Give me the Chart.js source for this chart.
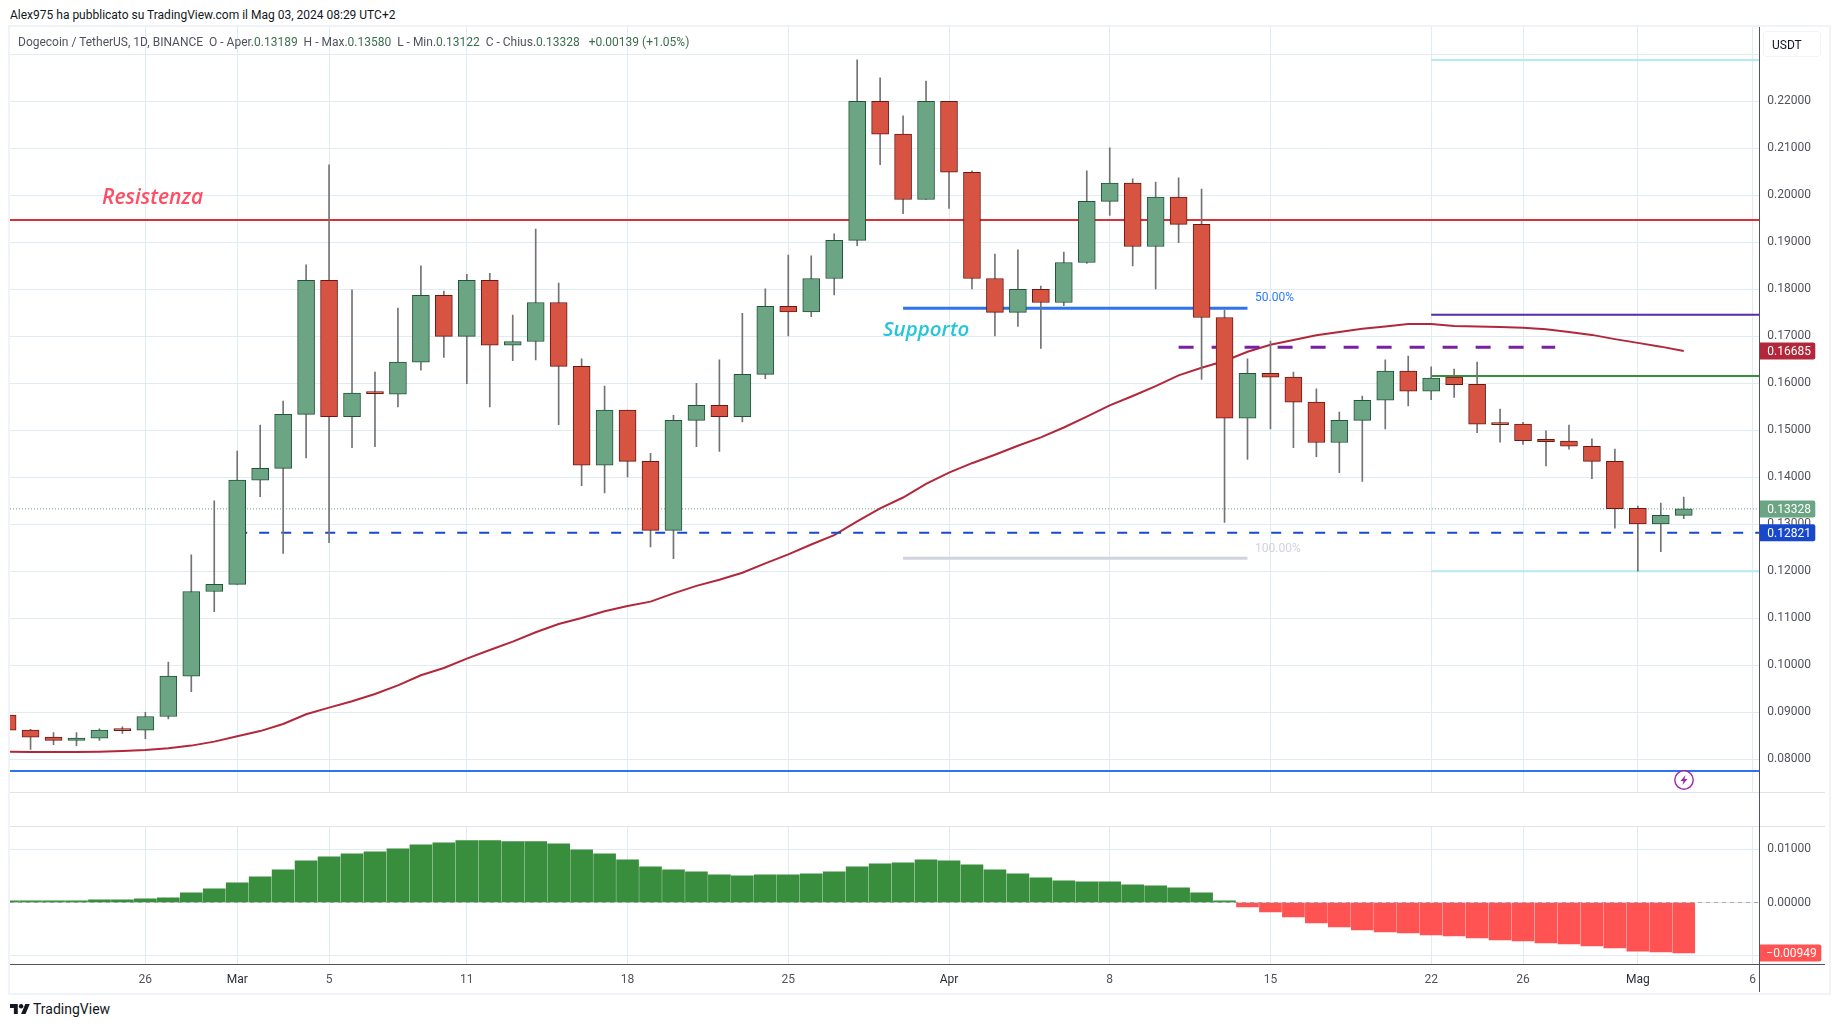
<!DOCTYPE html>
<html>
<head>
<meta charset="utf-8">
<title>Dogecoin / TetherUS</title>
<script src="https://cdn.jsdelivr.net/npm/chart.js@4/dist/chart.umd.min.js"></script>
<style>
  html, body { margin: 0; background: #fff; }
  body { width: 1835px; height: 1027px; position: relative; overflow: hidden; font-family: Roboto, sans-serif; }
  canvas { position: absolute; left: 10px; }
  .su { position: absolute; white-space: pre; pointer-events: none; }
  .riga { position: absolute; }
</style>
</head>
<body>
<canvas id="prezzo" width="1815" height="765" style="top:27px"></canvas>
<canvas id="oscillatore" width="1815" height="166" style="top:826px"></canvas>

<div class="riga" style="left:8px;top:25px;width:1819px;height:966px;border:2px solid #f0f3fa;box-sizing:content-box"></div>
<div class="riga" style="left:10px;top:792px;width:1815px;height:1px;background:#e0e3eb"></div>
<div class="riga" style="left:10px;top:826px;width:1815px;height:1px;background:#e0e3eb"></div>
<div class="riga" style="left:10px;top:964px;width:1815px;height:1px;background:#50535e"></div>
<div class="riga" style="left:1759px;top:27px;width:1px;height:965px;background:#50535e"></div>

<div class="su" style="left:10px;top:8px;font-size:12px;color:#131722">Alex975 ha pubblicato su TradingView.com il Mag 03, 2024 08:29 UTC+2</div>
<div class="su" style="left:18px;top:35px;font-size:12px;color:#50535e">Dogecoin / TetherUS, 1D, BINANCE  O - Aper.<span style="color:#3c6e50">0.13189</span>  H - Max.<span style="color:#3c6e50">0.13580</span>  L - Min.<span style="color:#3c6e50">0.13122</span>  C - Chius.<span style="color:#3c6e50">0.13328</span>  <span style="color:#3c6e50"> +0.00139 (+1.05%)</span></div>

<div class="su" style="left:102px;top:182px;font:italic 600 21px 'Open Sans';color:#ff4d63">Resistenza</div>
<div class="su" style="left:883px;top:314px;font:italic 600 20.5px 'Open Sans';color:#26c6da">Supporto</div>
<div class="su" style="left:1255px;top:290px;font-size:12px;color:#2979ff">50.00%</div>
<div class="su" style="left:1255px;top:541px;font-size:12px;color:#d1d4dc">100.00%</div>

<div class="su" style="left:1763px;top:31px;width:58px;height:26px;border:1px solid #f0f3fa;border-radius:4px;box-sizing:border-box;font-size:12px;line-height:26px;padding-left:8px;color:#131722">USDT</div>

<svg class="su" style="left:1674px;top:770px" width="20" height="20" viewBox="0 0 20 20">
  <circle cx="10" cy="10" r="9.2" fill="#fff" stroke="#9c27b0" stroke-width="1.4"/>
  <path d="M11.5 5 L6.5 11 H9.5 L8.5 15 L13.5 9 H10.5 Z" fill="#9c27b0"/>
</svg>

<svg class="su" style="left:10px;top:1004px" width="20" height="10" viewBox="0 0 36 18">
  <path d="M14 18H7V7H0V0h14zM28 18h-8L27.5 0h8z" fill="#131722"/><circle cx="20" cy="4" r="4" fill="#131722"/>
</svg>
<div class="su" style="left:33px;top:1001px;font-size:14px;color:#131722">TradingView</div>

<script>
/*Dati: candele giornaliere DOGE/USDT, dal 20 febbraio (giorno 0) al 3 maggio*/
const apertura = [.0894,.0862,.0847,.0840,.0845,.0862,.0862,.0891,.0977,.1157,.1172,.1394,.1419,.1534,.1819,.1529,.1579,.1577,.1645,.1787,.1700,.1819,.1681,.1689,.1772,.1636,.1426,.1543,.1434,.1287,.1521,.1553,.1529,.1619,.1764,.1752,.1823,.1904,.2200,.2130,.1991,.2200,.2049,.1823,.1751,.1800,.1772,.1857,.1987,.2026,.1891,.1996,.1938,.1740,.1526,.1621,.1613,.1560,.1474,.1521,.1564,.1626,.1583,.1613,.1598,.1513,.1513,.1481,.1477,.1466,.1434,.1334,.1301,.13189];
const chiusura = [.0862,.0847,.0840,.0845,.0862,.0861,.0891,.0977,.1157,.1172,.1394,.1419,.1534,.1819,.1529,.1579,.1578,.1645,.1787,.1700,.1819,.1681,.1689,.1772,.1636,.1426,.1543,.1434,.1287,.1521,.1553,.1529,.1619,.1764,.1752,.1823,.1904,.2200,.2130,.1991,.2200,.2049,.1823,.1751,.1800,.1772,.1857,.1987,.2026,.1891,.1996,.1938,.1740,.1526,.1621,.1613,.1560,.1474,.1521,.1564,.1626,.1583,.1611,.1597,.1513,.1512,.1478,.1476,.1466,.1434,.1333,.1301,.1319,.13328];
const massimo = [.0894,.0864,.0857,.0857,.0865,.0869,.0900,.1007,.1235,.1350,.1456,.1511,.1562,.1852,.2065,.1799,.1624,.1760,.1850,.1796,.1832,.1834,.1745,.1928,.1813,.1652,.1594,.1543,.1451,.1532,.1600,.1650,.1749,.1801,.1873,.1871,.1918,.2288,.2250,.2169,.2243,.2200,.2052,.1875,.1884,.1807,.1879,.2052,.2101,.2035,.2028,.2037,.2013,.1756,.1652,.1690,.1624,.1588,.1539,.1573,.1650,.1658,.1635,.1630,.1645,.1545,.1517,.1499,.1511,.1482,.1460,.1339,.1345,.13580];
const minimo = [.0862,.0821,.0831,.0829,.0840,.0855,.0844,.0886,.0944,.1114,.1172,.1359,.1238,.1441,.1261,.1463,.1465,.1550,.1628,.1655,.1599,.1550,.1648,.1650,.1512,.1382,.1367,.1401,.1252,.1227,.1465,.1455,.1518,.1610,.1701,.1742,.1788,.1893,.2065,.1961,.1991,.1972,.1801,.1701,.1721,.1674,.1765,.1855,.1957,.1850,.1801,.1899,.1608,.1304,.1438,.1503,.1463,.1444,.1410,.1391,.1503,.1552,.1565,.1570,.1495,.1475,.1470,.1424,.1460,.1397,.1292,.1200,.1242,.13122];

/*Media mobile rossa*/
const media = [.08163,.08156,.08156,.08156,.08163,.08177,.08199,.08234,.08291,.08376,.0849,.0860,.0875,.08957,.0910,.09234,.0939,.09574,.09787,.09943,.10142,.10326,.10504,.10702,.10879,.11007,.11149,.11262,.11355,.1153,.1169,.1182,.1197,.1217,.1236,.1257,.1277,.1306,.1334,.1357,.1386,.1410,.1430,.1448,.1467,.1485,.1506,.1529,.1553,.1573,.1594,.1617,.1633,.16475,.1667,.1682,.1692,.1702,.1709,.1716,.1721,.1726,.1726,.1722,.1721,.1720,.1718,.1715,.1709,.1703,.1694,.1686,.1678,.16685];

/*Istogramma dell'oscillatore*/
const oscillatore = [.00031,.00031,.00031,.00031,.00050,.00050,.00069,.00088,.00182,.00258,.00371,.00484,.00616,.00786,.00862,.00918,.00956,.01013,.01088,.01126,.01164,.01164,.01145,.01145,.01107,.00994,.00918,.00805,.00673,.00616,.00579,.00522,.00503,.00522,.00522,.00541,.00579,.00673,.00730,.00748,.00805,.00786,.00711,.00616,.00541,.00465,.00409,.00390,.00390,.00333,.00314,.00277,.00182,.00031,-.00082,-.00176,-.00270,-.00384,-.00459,-.00516,-.00553,-.00572,-.00610,-.00629,-.00667,-.00704,-.00723,-.00761,-.00780,-.00818,-.00855,-.00918,-.00931,-.00949];

const giorniTick = [6, 10, 14, 20, 27, 34, 41, 48, 55, 62, 66, 71, 76];
const etichetteTick = ['26', 'Mar', '5', '11', '18', '25', 'Apr', '8', '15', '22', '26', 'Mag', '6'];
const tickPrezzo = [.08, .09, .10, .11, .12, .13, .14, .15, .16, .17, .18, .19, .20, .21, .22, .23];
const tickOscillatore = [-.01, 0, .01];

/*Livelli disegnati a mano sul grafico*/
const resistenza = 0.19474;
const supportoBasso = 0.07751;
const supportoTratteggio = 0.12821;
const ultimoPrezzo = 0.13328;
const canaleAlto = 0.22879;
const canaleBasso = 0.12000;
const lineaViola = 0.17460;
const lineaVerde = 0.16155;
const fib50 = 0.17596;
const fib100 = 0.12277;
const lineaPorpora = 0.16766;

const xMin = 0.1045;
const xMax = 76.29;
const carattereAssi = { family: 'Roboto', size: 12 };

const verde = '#6ba583', verdeBordo = '#225437';
const rosso = '#d75442', rossoBordo = '#6b1713';

function segmento(prezzo, da, a, colore, spessore, tratteggio, ordine) {
    return {
        type: 'line',
        data: [{ x: da, y: prezzo }, { x: a, y: prezzo }],
        borderColor: colore,
        borderWidth: spessore,
        borderDash: tratteggio || [],
        pointRadius: 0,
        order: ordine
    };
}

/*Etichette colorate sull'asse destro*/
function etichetteAsse(lista) {
    return {
        id: 'etichetteAsse',
        afterDraw(chart) {
            const ctx = chart.ctx;
            const y = chart.scales.y;
            lista.forEach(e => {
                const py = y.getPixelForValue(e.valore);
                ctx.fillStyle = e.sfondo;
                ctx.beginPath();
                ctx.roundRect(chart.chartArea.right, py - 8.5, e.larghezza, 17, [0, 2, 2, 0]);
                ctx.fill();
                ctx.fillStyle = '#fff';
                ctx.font = '12px Roboto';
                ctx.textBaseline = 'middle';
                ctx.fillText(e.testo, chart.chartArea.right + e.rientro, py + 1);
            });
        }
    };
}

const asseX = (altezza, mostra) => ({
    type: 'linear',
    min: xMin,
    max: xMax,
    offset: false,
    afterBuildTicks: s => { s.ticks = giorniTick.map(v => ({ value: v })); },
    afterFit: s => { s.height = altezza; s.paddingLeft = 0; s.paddingRight = 0; },
    grid: { color: '#e1ecf2', drawTicks: false, offset: false },
    border: { display: false },
    ticks: {
        display: mostra,
        autoSkip: false,
        maxRotation: 0,
        padding: 9,
        color: ctx => ['Mar', 'Apr', 'Mag'].includes(etichetteTick[ctx.index]) ? '#2a2e39' : '#50535e',
        font: carattereAssi,
        callback: (v, i) => etichetteTick[i]
    }
});

const asseY = (min, max, valori, nascosto) => ({
    position: 'right',
    min: min,
    max: max,
    afterBuildTicks: s => { s.ticks = valori.map(v => ({ value: v })); },
    afterFit: s => { s.width = 65.7; s.paddingTop = 0; s.paddingBottom = 0; },
    grid: { color: '#e1ecf2', drawTicks: false },
    border: { display: false },
    ticks: {
        padding: 8,
        color: '#50535e',
        font: carattereAssi,
        callback: v => v === nascosto ? '' : v.toFixed(5)
    }
});

const giorni = apertura.map((v, i) => i);

const grafico_prezzo = new Chart(document.getElementById('prezzo'), {
    data: {
        datasets: [
            segmento(ultimoPrezzo, xMin, xMax, '#6ba583', 1, [1, 2], 9),
            segmento(resistenza, xMin, xMax, '#d93135', 2, null, 8),
            segmento(supportoBasso, xMin, xMax, '#2f73f0', 2, null, 8),
            segmento(canaleAlto, 62, xMax, '#b2ebf2', 2, null, 8),
            segmento(canaleBasso, 62, xMax, '#b2ebf2', 2, null, 8),
            segmento(lineaViola, 62, xMax, '#512da8', 2, null, 8),
            segmento(lineaVerde, 62, xMax, '#388e3c', 2, null, 8),
            segmento(fib50, 39, 54, '#2f73f0', 3, null, 8),
            segmento(fib100, 39, 54, '#d1d4dc', 3, null, 8),
            segmento(lineaPorpora, 51, 67.4, '#7b1fa2', 3, [15, 18], 8),
            segmento(supportoTratteggio, 10, xMax, '#1848cc', 2, [10, 12], 8),
            {
                type: 'line',
                data: giorni.map(i => ({ x: i, y: media[i] })),
                borderColor: '#b2283a',
                borderWidth: 2,
                pointRadius: 0,
                order: 8
            },
            {
                type: 'bar',
                data: giorni.map(i => ({ x: i, y: [minimo[i], massimo[i]] })),
                backgroundColor: '#737375',
                barThickness: 1,
                grouped: false,
                order: 7
            },
            {
                type: 'bar',
                data: giorni.map(i => ({ x: i, y: [apertura[i], chiusura[i]] })),
                backgroundColor: giorni.map(i => chiusura[i] >= apertura[i] ? verde : rosso),
                borderColor: giorni.map(i => chiusura[i] >= apertura[i] ? verdeBordo : rossoBordo),
                borderWidth: 1,
                borderSkipped: false,
                barThickness: 17,
                minBarLength: 2,
                grouped: false,
                order: 6
            }
        ]
    },
    options: {
        responsive: false,
        animation: false,
        layout: { padding: 0 },
        plugins: { legend: { display: false }, tooltip: { enabled: false } },
        scales: { x: asseX(0, false), y: asseY(0.07304, 0.23581, tickPrezzo, .23) }
    },
    plugins: [etichetteAsse([
        { valore: media[media.length - 1], testo: '0.16685', sfondo: '#b2283a', larghezza: 56, rientro: 8 },
        { valore: ultimoPrezzo, testo: '0.13328', sfondo: '#6ba583', larghezza: 56, rientro: 8 },
        { valore: supportoTratteggio, testo: '0.12821', sfondo: '#1848cc', larghezza: 56, rientro: 8 }
    ])]
});

const grafico_oscillatore = new Chart(document.getElementById('oscillatore'), {
    data: {
        datasets: [
            {
                type: 'bar',
                data: giorni.map(i => ({ x: i, y: oscillatore[i] })),
                backgroundColor: oscillatore.map(v => v >= 0 ? '#388e3c' : '#ff5252'),
                barThickness: 22,
                order: 2
            },
            segmento(0, xMin, xMax, 'rgba(120,123,134,.55)', 1, [4, 4], 1)
        ]
    },
    options: {
        responsive: false,
        animation: false,
        layout: { padding: 0 },
        plugins: { legend: { display: false }, tooltip: { enabled: false } },
        scales: { x: asseX(28, true), y: asseY(-0.011582, 0.014407, tickOscillatore, -.01) }
    },
    plugins: [etichetteAsse([
        { valore: oscillatore[oscillatore.length - 1], testo: '\u22120.00949', sfondo: '#ff5252', larghezza: 62, rientro: 7 }
    ])]
});
</script>
</body>
</html>
